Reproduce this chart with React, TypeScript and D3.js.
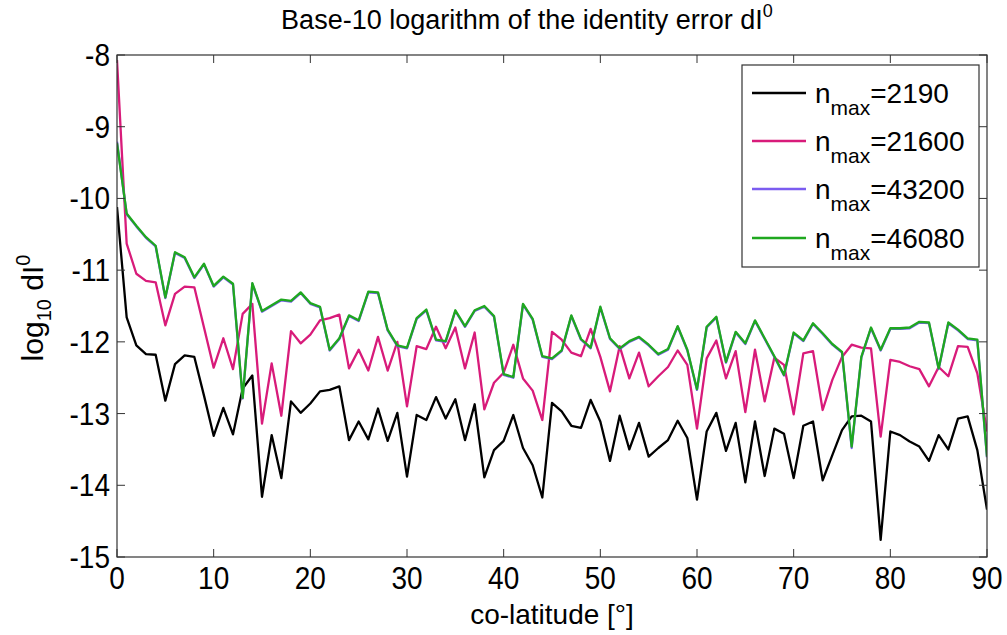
import React from "react";
import * as d3 from "d3";

const colat: number[] = d3.range(0, 91);

const n2190: number[] = [
  -10.12, -11.66, -12.05, -12.17, -12.18, -12.82, -12.31, -12.19, -12.21, -12.75,
  -13.31, -12.92, -13.29, -12.65, -12.47, -14.16, -13.30, -13.90, -12.83, -12.99,
  -12.86, -12.69, -12.67, -12.62, -13.37, -13.11, -13.36, -12.93, -13.38, -12.99,
  -13.88, -13.02, -13.09, -12.77, -13.07, -12.80, -13.37, -12.87, -13.89, -13.51,
  -13.38, -13.02, -13.48, -13.72, -14.17, -12.85, -12.97, -13.17, -13.20, -12.81,
  -13.11, -13.66, -13.03, -13.50, -13.13, -13.60, -13.48, -13.37, -13.10, -13.34,
  -14.20, -13.25, -12.99, -13.52, -13.13, -13.96, -13.11, -13.87, -13.21, -13.28,
  -13.90, -13.17, -13.11, -13.93, -13.58, -13.23, -13.04, -13.03, -13.11, -14.76,
  -13.25, -13.30, -13.39, -13.46, -13.66, -13.30, -13.50, -13.07, -13.04, -13.51,
  -14.34,
];

const n21600: number[] = [
  -8.07, -10.63, -11.05, -11.15, -11.17, -11.77, -11.33, -11.23, -11.24, -11.80,
  -12.36, -11.95, -12.38, -11.61, -11.47, -13.14, -12.30, -13.03, -11.85, -12.02,
  -11.90, -11.70, -11.67, -11.62, -12.37, -12.11, -12.40, -11.93, -12.40, -12.00,
  -12.90, -12.06, -12.10, -11.79, -12.09, -11.80, -12.37, -11.87, -12.94, -12.57,
  -12.43, -12.04, -12.51, -12.68, -13.09, -11.86, -11.97, -12.15, -12.20, -11.82,
  -12.21, -12.69, -12.06, -12.51, -12.15, -12.62, -12.48, -12.35, -12.12, -12.32,
  -13.21, -12.23, -11.98, -12.51, -12.13, -12.98, -12.11, -12.83, -12.22, -12.32,
  -13.01, -12.16, -12.13, -12.95, -12.53, -12.21, -12.04, -12.08, -12.09, -13.32,
  -12.25, -12.28, -12.34, -12.38, -12.62, -12.35, -12.48, -12.06, -12.07, -12.44,
  -13.25,
];

const n43200: number[] = [
  -9.21, -10.22, -10.39, -10.55, -10.67, -11.39, -10.76, -10.83, -11.11, -10.92,
  -11.23, -11.10, -11.20, -12.79, -11.19, -11.58, -11.50, -11.42, -11.44, -11.32,
  -11.47, -11.52, -12.12, -11.96, -11.64, -11.71, -11.31, -11.32, -11.84, -12.06,
  -12.09, -11.68, -11.56, -11.98, -12.00, -11.57, -11.79, -11.57, -11.51, -11.65,
  -12.46, -12.50, -11.48, -11.69, -12.21, -12.24, -12.13, -11.64, -11.97, -12.09,
  -11.52, -11.96, -12.10, -12.00, -11.94, -12.05, -12.18, -12.11, -11.79, -12.12,
  -12.67, -11.80, -11.66, -12.29, -11.87, -12.03, -11.71, -11.96, -12.21, -12.47,
  -11.88, -11.99, -11.75, -11.89, -12.04, -12.15, -13.48, -12.22, -11.81, -12.12,
  -11.82, -11.82, -11.81, -11.73, -11.74, -12.38, -11.74, -11.84, -11.96, -11.98,
  -13.61,
];

const n46080: number[] = [
  -9.23, -10.21, -10.38, -10.54, -10.66, -11.38, -10.75, -10.82, -11.10, -10.91,
  -11.22, -11.09, -11.19, -12.78, -11.18, -11.57, -11.49, -11.41, -11.43, -11.31,
  -11.46, -11.51, -12.11, -11.95, -11.63, -11.70, -11.30, -11.31, -11.83, -12.05,
  -12.08, -11.67, -11.55, -11.97, -11.99, -11.56, -11.78, -11.56, -11.50, -11.64,
  -12.45, -12.49, -11.47, -11.68, -12.20, -12.23, -12.12, -11.63, -11.96, -12.08,
  -11.51, -11.95, -12.09, -11.99, -11.93, -12.04, -12.17, -12.10, -11.78, -12.11,
  -12.66, -11.79, -11.65, -12.28, -11.86, -12.02, -11.70, -11.95, -12.20, -12.46,
  -11.87, -11.98, -11.74, -11.88, -12.03, -12.14, -13.46, -12.21, -11.80, -12.11,
  -11.81, -11.81, -11.80, -11.72, -11.73, -12.37, -11.73, -11.83, -11.95, -11.97,
  -13.60,
];

const seriesNames: string[] = ["=2190", "=21600", "=43200", "=46080"];
const seriesColors: string[] = ["#000000", "#d81b7a", "#7b5cf0", "#1fa81f"];
const xTicks: number[] = [0, 10, 20, 30, 40, 50, 60, 70, 80, 90];
const yTicks: number[] = [-8, -9, -10, -11, -12, -13, -14, -15];

const W = 1007;
const H = 635;
const L = 117;
const R = 987;
const T = 55;
const B = 557;
const FONT = "'Liberation Sans', Arial, Helvetica, sans-serif";

export default function App() {
  const x = d3.scaleLinear().domain([0, 90]).range([L, R]);
  const y = d3.scaleLinear().domain([-15, -8]).range([B, T]);
  const allSeries = [n2190, n21600, n43200, n46080];
  const line = d3
    .line<number>()
    .x((_, i) => x(colat[i]))
    .y((d) => y(d));
  const tickLen = 8;
  const legX = 742;
  const legY = 65;
  const legW = 237;
  const legH = 202;
  const rowYs = [93, 141, 189, 238];

  return (
    <svg
      width={W}
      height={H}
      style={{ position: "absolute", left: 0, top: 0, background: "#fff" }}
      fontFamily={FONT}
    >
      <rect x={0} y={0} width={W} height={H} fill="#fff" />
      {/* title */}
      <text x={527} y={29} fontSize={27} textAnchor="middle" fill="#000">
        Base-10 logarithm of the identity error dI
        <tspan dy={-12} fontSize={18}>0</tspan>
      </text>

      {/* plot lines */}
      <defs>
        <clipPath id="clip">
          <rect x={L} y={T - 2} width={R - L} height={B - T + 4} />
        </clipPath>
      </defs>
      <g clipPath="url(#clip)">
        {allSeries.map((s, k) => (
          <path
            key={k}
            d={line(s) || ""}
            fill="none"
            stroke={seriesColors[k]}
            strokeWidth={2.3}
            strokeLinejoin="round"
          />
        ))}
      </g>

      {/* frame */}
      <rect x={L} y={T} width={R - L} height={B - T} fill="none" stroke="#333" strokeWidth={1.2} />
      {xTicks.map((t) => (
        <g key={"xt" + t}>
          <line x1={x(t)} x2={x(t)} y1={B} y2={B - tickLen} stroke="#333" strokeWidth={1} />
          <line x1={x(t)} x2={x(t)} y1={T} y2={T + tickLen} stroke="#333" strokeWidth={1} />
          <text
            transform={`translate(${x(t)},589) scale(1,1.1)`}
            fontSize={28}
            textAnchor="middle"
            fill="#000"
          >
            {t}
          </text>
        </g>
      ))}
      {yTicks.map((t) => (
        <g key={"yt" + t}>
          <line x1={L} x2={L + tickLen} y1={y(t)} y2={y(t)} stroke="#333" strokeWidth={1} />
          <line x1={R} x2={R - tickLen} y1={y(t)} y2={y(t)} stroke="#333" strokeWidth={1} />
          <text
            transform={`translate(110,${y(t) + 11}) scale(1,1.1)`}
            fontSize={28}
            textAnchor="end"
            fill="#000"
          >
            {t}
          </text>
        </g>
      ))}

      {/* axis labels */}
      <text x={552} y={624} fontSize={28} textAnchor="middle" fill="#000">
        co-latitude [°]
      </text>
      <text
        transform={`translate(43,308) rotate(-90)`}
        fontSize={30}
        textAnchor="middle"
        fill="#000"
      >
        log
        <tspan dy={8} fontSize={20}>10</tspan>
        <tspan dy={-8} fontSize={30}> dI</tspan>
        <tspan dy={-13} fontSize={20}>0</tspan>
      </text>

      {/* legend */}
      <rect x={legX} y={legY} width={legW} height={legH} fill="#fff" stroke="#333" strokeWidth={1.2} />
      {seriesNames.map((name, k) => (
        <g key={"lg" + k}>
          <line
            x1={752}
            x2={806}
            y1={rowYs[k]}
            y2={rowYs[k]}
            stroke={seriesColors[k]}
            strokeWidth={2.3}
          />
          <text x={815} y={rowYs[k] + 10} fontSize={28} fill="#000">
            n
            <tspan dy={12} fontSize={21}>max</tspan>
            <tspan dy={-12} fontSize={28}>{name}</tspan>
          </text>
        </g>
      ))}
    </svg>
  );
}
